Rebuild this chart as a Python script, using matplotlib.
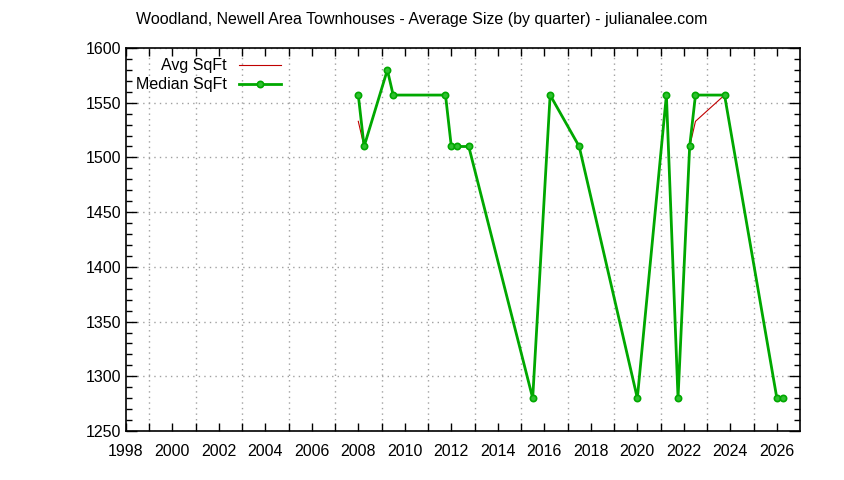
import matplotlib
matplotlib.use("Agg")
import matplotlib.pyplot as plt
from matplotlib.ticker import MultipleLocator, FixedLocator

plt.rcParams['font.family'] = ['Liberation Sans', 'DejaVu Sans']

# quarter dates (decimal years)
dates = [2008.0, 2008.25, 2009.25, 2009.5, 2011.75, 2012.0, 2012.25, 2012.75,
         2015.5, 2016.25, 2017.5, 2020.0, 2021.25, 2021.75, 2022.25, 2022.5,
         2023.75, 2026.0, 2026.25]
avg_sqft = [1533, 1510, 1580, 1557, 1557, 1510, 1510, 1510,
            1280, 1557, 1510, 1280, 1557, 1280, 1510, 1533,
            1557, 1280, 1280]
median_sqft = [1557, 1510, 1580, 1557, 1557, 1510, 1510, 1510,
               1280, 1557, 1510, 1280, 1557, 1280, 1510, 1557,
               1557, 1280, 1280]
year_labels = list(range(1998, 2027, 2))

fig = plt.figure(figsize=(8.44, 4.8), dpi=100)
ax = fig.add_axes([0.149, 0.102, 0.799, 0.798])

ax.plot(dates, avg_sqft, color="#c00000", lw=0.8, label="Avg SqFt", zorder=2)
ax.plot(dates, median_sqft, color="#00a800", lw=2, marker="o", ms=4.5,
        mfc="#30c030", mec="#00a800", mew=1.2, label="Median SqFt", zorder=3)

ax.set_xlim(1998, 2027)
ax.set_ylim(1250, 1600)

ax.xaxis.set_major_locator(FixedLocator(year_labels))
ax.xaxis.set_minor_locator(FixedLocator(range(1999, 2027, 2)))
ax.yaxis.set_major_locator(MultipleLocator(50))
ax.yaxis.set_minor_locator(MultipleLocator(10))
ax.tick_params(axis="both", which="both", direction="in", top=True, right=True,
               labelsize=11.5, width=1)
ax.tick_params(axis="x", which="both", length=6)
ax.tick_params(axis="y", which="major", length=8)
ax.tick_params(axis="y", which="minor", length=4)
ax.tick_params(axis="x", pad=9)

ax.grid(True, axis="x", which="minor", color="#a0a0a0", ls=(0, (1, 3)), lw=1)
ax.grid(True, axis="y", which="major", color="#a0a0a0", ls=(0, (1, 3)), lw=1)
ax.set_axisbelow(True)
for s in ax.spines.values():
    s.set_linewidth(1.2)

fig.suptitle("Woodland, Newell Area Townhouses - Average Size (by quarter) - julianalee.com",
             y=0.96, va="center", fontsize=11.5)

leg = ax.legend(loc="upper left", bbox_to_anchor=(0.005, 0.99), frameon=False,
                markerfirst=False, fontsize=11.5, handlelength=2.6, labelspacing=0.25,
                borderaxespad=0)
for t in leg.get_texts():
    t.set_ha("right")

fig.savefig("out.png", dpi=100)
